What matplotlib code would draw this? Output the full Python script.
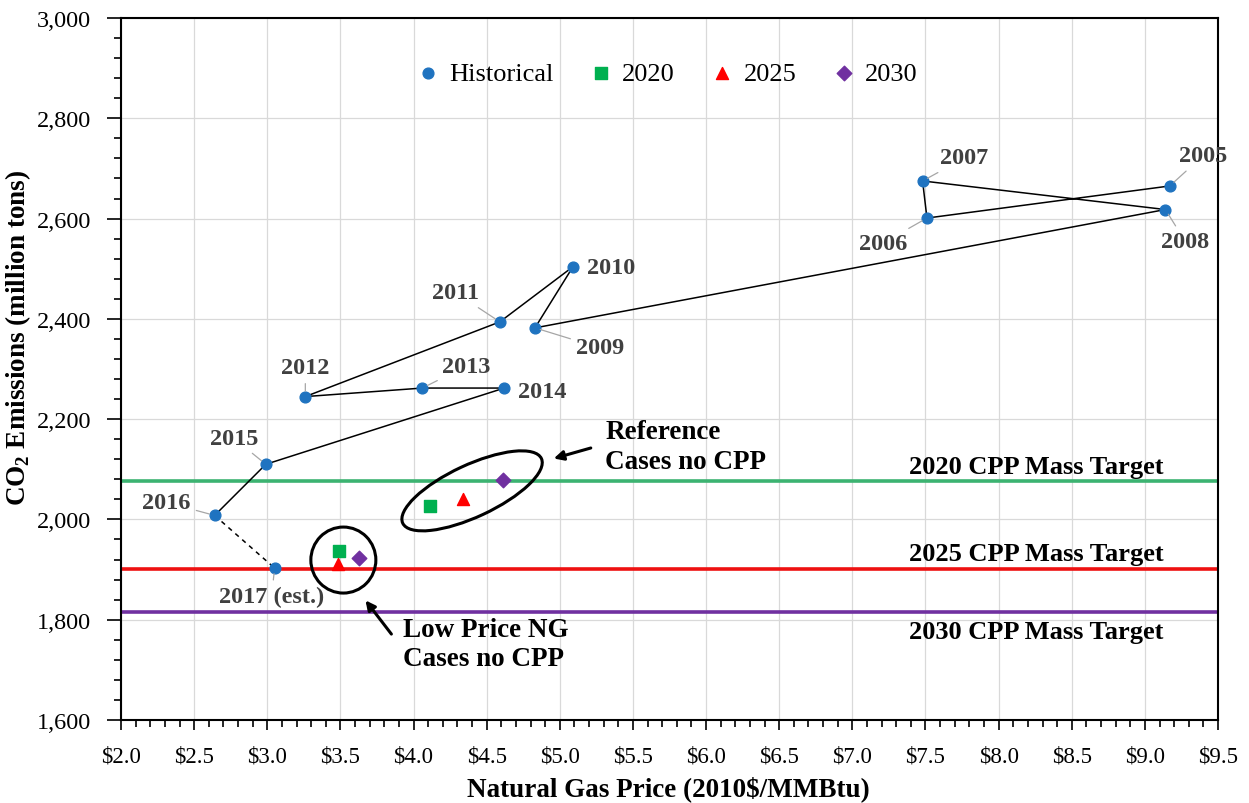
import matplotlib
matplotlib.use("Agg")
import matplotlib.pyplot as plt
from matplotlib.patches import Ellipse
from matplotlib.transforms import ScaledTranslation
from matplotlib.ticker import MultipleLocator, FuncFormatter

plt.rcParams['font.family'] = ['Liberation Serif', 'DejaVu Serif']
plt.rcParams['mathtext.fontset'] = 'custom'
plt.rcParams['mathtext.rm'] = 'Liberation Serif'
plt.rcParams['mathtext.bf'] = 'Liberation Serif:bold'

# historical data, 2005-2017 (2017 estimated)
hist_years = ['2005', '2006', '2007', '2008', '2009', '2010', '2011',
              '2012', '2013', '2014', '2015', '2016', '2017 (est.)']
hist_price = [9.17, 7.51, 7.48, 9.14, 4.83, 5.09, 4.59, 3.26, 4.06, 4.62, 2.99, 2.64, 3.05]
hist_co2 = [2665, 2601, 2675, 2618, 2382, 2504, 2394, 2245, 2262, 2262, 2110, 2008, 1903]

# scenario points: [reference case, low price NG case]
s2020_price = [4.11, 3.49]
s2020_co2 = [2027, 1937]
s2025_price = [4.34, 3.48]
s2025_co2 = [2040, 1911]
s2030_price = [4.61, 3.63]
s2030_co2 = [2079, 1924]

# CPP mass targets
target_names = ['2020 CPP Mass Target', '2025 CPP Mass Target', '2030 CPP Mass Target']
target_values = [2076, 1902, 1815]
target_colors = ['#3cb371', '#ee1111', '#7030a0']

blue = '#1f73c0'

fig = plt.figure(figsize=(12.49, 8.04), dpi=100)
ax = fig.add_axes([0.0969, 0.1032, 0.8783, 0.8732])

ax.set_xlim(2.0, 9.5)
ax.set_ylim(1600, 3000)
ax.xaxis.set_major_locator(MultipleLocator(0.5))
ax.xaxis.set_minor_locator(MultipleLocator(0.1))
ax.yaxis.set_major_locator(MultipleLocator(200))
ax.yaxis.set_minor_locator(MultipleLocator(40))
ax.xaxis.set_major_formatter(FuncFormatter(lambda v, p: '${:.1f}'.format(v)))
ax.yaxis.set_major_formatter(FuncFormatter(lambda v, p: '{:,.0f}'.format(v)))
ax.grid(True, which='major', color='#d9d9d9', lw=0.9)
ax.set_axisbelow(True)
ax.tick_params(which='both', direction='out', color='black', width=1.2)
ax.tick_params(which='minor', length=5)
ax.tick_params(axis='x', which='major', length=7, labelsize=16.5, pad=11)
ax.tick_params(axis='y', which='major', length=10, labelsize=17.5, pad=11.5)
for s in ax.spines.values():
    s.set_linewidth(1.5)

# target lines
for v, c in zip(target_values, target_colors):
    ax.axhline(v, color=c, lw=2.6, zorder=2)
label_shift = [30, 30, -38]
for name, v, dy in zip(target_names, target_values, label_shift):
    ax.text(8.26, v + dy, name, ha='center', va='center', fontsize=19,
            fontweight='bold', zorder=5)

# historical path
ax.plot(hist_price[:-1], hist_co2[:-1], color='black', lw=1.1, zorder=3)
ax.plot(hist_price[-2:], hist_co2[-2:], color='black', lw=1.1, ls=(0, (3, 3)), zorder=3)
ax.scatter(hist_price, hist_co2, s=60, color=blue, zorder=4, label='Historical')
ax.scatter(s2020_price, s2020_co2, s=75, marker='s', color='#00b050', zorder=4, label='2020')
ax.scatter(s2025_price, s2025_co2, s=75, marker='^', color='#ff0000', zorder=4, label='2025')
ax.scatter(s2030_price, s2030_co2, s=55, marker='D', color='#7030a0', zorder=4, label='2030')

# year labels with leader lines (offsets in pixels)
offsets = [(33, 30), (-44, -25), (42, 23), (20, -32), (65, -20), (38, -1), (-44, 29),
           (0, 29), (44, 22), (38, -3), (-32, 26), (-48, 13), (-3, -28)]
leaders = [True, True, True, True, True, False, True, True, True, False, True, True, True]
for yr, px, py, off, lead in zip(hist_years, hist_price, hist_co2, offsets, leaders):
    ax.annotate(yr, (px, py), xytext=off, textcoords='offset pixels',
                ha='center', va='center', fontsize=17.5, fontweight='bold', color='#404040',
                arrowprops=dict(arrowstyle='-', color='#a6a6a6', lw=0.9,
                                shrinkA=2, shrinkB=4) if lead else None,
                zorder=5)

# circled groups
ref_tr = fig.dpi_scale_trans + ScaledTranslation(4.40, 2057, ax.transData)
ax.add_patch(Ellipse((0, 0), 1.53, 0.52, angle=25, transform=ref_tr,
                     fill=False, ec='black', lw=2.2, zorder=5))
low_tr = fig.dpi_scale_trans + ScaledTranslation(3.52, 1919, ax.transData)
ax.add_patch(Ellipse((0, 0), 0.65, 0.66, transform=low_tr,
                     fill=False, ec='black', lw=2.2, zorder=5))

ax.annotate('', xy=(4.94, 2120), xytext=(5.23, 2144),
            arrowprops=dict(arrowstyle='-|>', color='black', lw=2.2, mutation_scale=14))
ax.text(5.31, 2146, 'Reference\nCases no CPP', ha='left', va='center',
        fontsize=19.5, fontweight='bold', linespacing=1.28)
ax.annotate('', xy=(3.66, 1843), xytext=(3.86, 1767),
            arrowprops=dict(arrowstyle='-|>', color='black', lw=2.2, mutation_scale=14))
ax.text(3.93, 1752, 'Low Price NG\nCases no CPP', ha='left', va='center',
        fontsize=19.5, fontweight='bold', linespacing=1.2)

ax.legend(loc='center', bbox_to_anchor=(0.497, 0.921), ncol=4, frameon=False,
          fontsize=19, handletextpad=0.3, columnspacing=1.3, handlelength=1.0,
          scatterpoints=1)

ax.set_xlabel('Natural Gas Price (2010$/MMBtu)', fontsize=19.5, fontweight='bold')
ax.set_ylabel(r'CO$_\mathbf{2}$ Emissions (million tons)', fontsize=19.5, fontweight='bold')
ax.xaxis.set_label_coords(0.499, -0.078)
ax.yaxis.set_label_coords(-0.080, 0.546)

fig.savefig('out.png', dpi=100)
